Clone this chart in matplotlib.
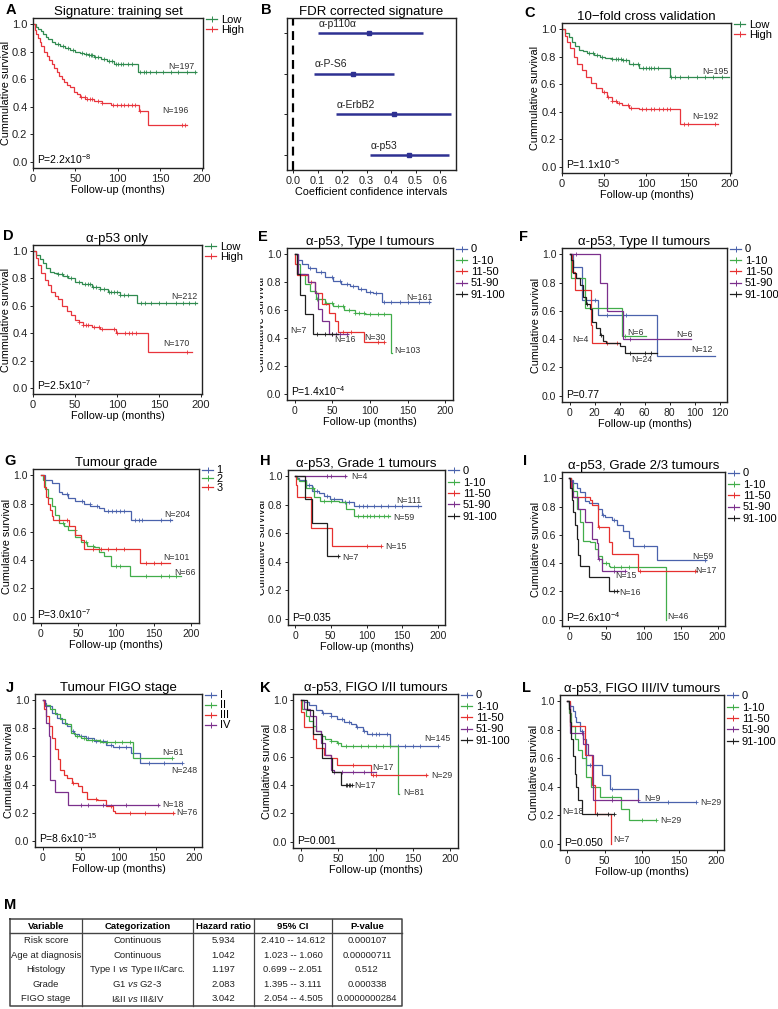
import numpy as np
import matplotlib.pyplot as plt
from matplotlib.lines import Line2D
from matplotlib.transforms import Bbox, TransformedBbox

# ---------------- data ----------------
# A  signature, training set (Low / High)
a_low_t = [0, 3, 6, 9, 12, 15, 18, 22, 26, 32, 38, 44, 50, 55, 60, 66, 72, 80, 88, 96, 124, 193]
a_low_s = [1.0, 0.98, 0.965, 0.95, 0.93, 0.91, 0.89, 0.87, 0.855, 0.845, 0.83, 0.815, 0.80, 0.79, 0.78, 0.775, 0.765, 0.75, 0.735, 0.71, 0.65, 0.65]
a_low_c = [30, 35, 41, 47, 58, 63, 66, 68, 70, 73, 77, 84, 90, 93, 98, 101, 104, 107, 112, 117, 127, 131, 134, 138, 145, 154, 163, 172, 182, 191]
a_high_t = [0, 2, 4, 6, 8, 10, 13, 16, 19, 22, 25, 28, 31, 34, 37, 40, 44, 48, 52, 56, 62, 72, 82, 92, 125, 136, 182]
a_high_s = [1.0, 0.96, 0.93, 0.90, 0.87, 0.84, 0.80, 0.77, 0.74, 0.71, 0.68, 0.65, 0.62, 0.60, 0.58, 0.56, 0.54, 0.51, 0.49, 0.47, 0.46, 0.445, 0.43, 0.41, 0.37, 0.27, 0.27]
a_high_c = [57, 61, 64, 67, 70, 77, 82, 95, 99, 104, 108, 112, 117, 121, 127, 176, 180]

# B  FDR corrected signature
b_names = ['\u03b1-p110\u03b1', '\u03b1-P-S6', '\u03b1-ErbB2', '\u03b1-p53']
b_coef = [0.31, 0.245, 0.41, 0.475]
b_lo = [0.10, 0.085, 0.175, 0.315]
b_hi = [0.53, 0.41, 0.645, 0.635]

# C  10-fold cross validation
c_low_t = [0, 4, 8, 12, 16, 20, 25, 30, 38, 45, 51, 60, 71, 80, 92, 128, 199]
c_low_s = [1.0, 0.97, 0.94, 0.91, 0.88, 0.85, 0.84, 0.83, 0.81, 0.795, 0.79, 0.78, 0.775, 0.75, 0.72, 0.655, 0.655]
c_low_c = [32, 37, 42, 47, 60, 64, 67, 70, 73, 76, 85, 90, 96, 100, 103, 106, 110, 114, 130, 134, 140, 150, 160, 170, 180, 190]
c_high_t = [0, 3, 6, 10, 14, 18, 24, 29, 35, 41, 47, 53, 59, 65, 71, 80, 92, 140, 185]
c_high_s = [1.0, 0.95, 0.91, 0.86, 0.80, 0.75, 0.70, 0.655, 0.61, 0.575, 0.54, 0.51, 0.48, 0.465, 0.45, 0.43, 0.42, 0.31, 0.31]
c_high_c = [50, 55, 60, 64, 68, 78, 82, 95, 100, 106, 110, 115, 120, 125, 128, 145, 150, 182]

# D  alpha-p53 only
d_low_t = [0, 4, 8, 12, 16, 20, 25, 30, 36, 42, 50, 58, 70, 80, 89, 103, 124, 195]
d_low_s = [1.0, 0.97, 0.945, 0.91, 0.88, 0.85, 0.84, 0.835, 0.82, 0.80, 0.775, 0.76, 0.74, 0.72, 0.70, 0.68, 0.62, 0.62]
d_low_c = [30, 34, 40, 45, 55, 62, 65, 68, 71, 75, 80, 85, 90, 93, 96, 100, 104, 108, 113, 128, 133, 140, 150, 158, 170, 178, 186, 193]
d_high_t = [0, 3, 6, 10, 14, 18, 22, 26, 30, 35, 40, 45, 50, 55, 60, 70, 80, 99, 137, 189]
d_high_s = [1.0, 0.95, 0.90, 0.84, 0.79, 0.75, 0.70, 0.67, 0.65, 0.60, 0.56, 0.53, 0.50, 0.48, 0.46, 0.445, 0.43, 0.40, 0.265, 0.265]
d_high_c = [55, 60, 63, 66, 72, 78, 82, 96, 100, 110, 114, 118, 122, 183]

# E  alpha-p53, Type I tumours (0, 1-10, 11-50, 51-90, 91-100)
e0_t = [0, 5, 10, 18, 29, 40, 51, 62, 73, 84, 95, 104, 116, 180]
e0_s = [1.0, 0.96, 0.93, 0.90, 0.87, 0.84, 0.81, 0.79, 0.77, 0.75, 0.73, 0.72, 0.66, 0.66]
e0_c = [20, 35, 50, 60, 70, 78, 88, 100, 108, 118, 128, 140, 150, 165, 178]
e1_t = [0, 3, 7, 14, 21, 29, 40, 51, 66, 80, 93, 128, 129]
e1_s = [1.0, 0.93, 0.86, 0.79, 0.74, 0.68, 0.65, 0.63, 0.60, 0.58, 0.57, 0.29, 0.29]
e1_c = [30, 42, 50, 57, 64, 72, 80, 86, 92, 100, 110, 118]
e2_t = [0, 1, 3, 18, 27, 36, 45, 53, 58, 92, 119]
e2_s = [1.0, 0.93, 0.85, 0.80, 0.72, 0.64, 0.58, 0.52, 0.44, 0.37, 0.37]
e2_c = [22, 64, 75, 110, 118]
e3_t = [0, 4, 18, 27, 31, 36, 45, 71]
e3_s = [1.0, 0.86, 0.80, 0.72, 0.61, 0.52, 0.43, 0.43]
e3_c = [50, 55, 60, 70]
e4_t = [0, 3, 7, 14, 25, 58]
e4_s = [1.0, 0.86, 0.71, 0.57, 0.43, 0.43]
e4_c = [30, 40, 50]

# F  alpha-p53, Type II tumours
f0_t = [0, 3, 10, 23, 70, 116]
f0_s = [1.0, 0.91, 0.68, 0.57, 0.28, 0.28]
f0_c = [20, 30, 45]
f1_t = [0, 1, 12, 42, 61]
f1_s = [1.0, 0.83, 0.62, 0.42, 0.42]
f1_c = [44]
f2_t = [0, 2, 4, 17, 18, 40]
f2_s = [1.0, 0.875, 0.75, 0.50, 0.375, 0.375]
f2_c = [30, 38]
f3_t = [0, 24, 30, 43, 97]
f3_s = [1.0, 0.80, 0.60, 0.40, 0.40]
f3_c = [5, 48]
f4_t = [0, 1, 3, 5, 8, 11, 13, 16, 18, 21, 24, 27, 29, 40, 44, 70]
f4_s = [1.0, 0.96, 0.87, 0.83, 0.78, 0.70, 0.65, 0.61, 0.52, 0.48, 0.43, 0.39, 0.37, 0.35, 0.30, 0.30]
f4_c = [14, 25, 48, 60, 65]

# G  tumour grade (1, 2, 3)
g1_t = [0, 6, 15, 24, 28, 37, 46, 58, 66, 78, 84, 120, 174]
g1_s = [1.0, 0.97, 0.945, 0.885, 0.87, 0.84, 0.815, 0.80, 0.78, 0.77, 0.745, 0.683, 0.683]
g1_c = [35, 55, 65, 75, 90, 95, 100, 105, 110, 125, 130, 135, 160, 172]
g2_t = [0, 3, 6, 10, 15, 19, 24, 31, 37, 46, 53, 62, 71, 78, 84, 93, 119, 186]
g2_s = [1.0, 0.97, 0.90, 0.84, 0.78, 0.72, 0.66, 0.64, 0.61, 0.565, 0.53, 0.50, 0.49, 0.46, 0.43, 0.36, 0.29, 0.29]
g2_c = [30, 45, 60, 70, 100, 105, 140, 160, 170, 180]
g3_t = [0, 4, 7, 10, 13, 15, 17, 38, 46, 53, 58, 132, 172]
g3_s = [1.0, 0.92, 0.85, 0.80, 0.755, 0.71, 0.685, 0.64, 0.58, 0.54, 0.48, 0.38, 0.38]
g3_c = [25, 35, 70, 80, 90, 100, 110, 140, 150, 160]

# H  alpha-p53, Grade 1 tumours
h0_t = [0, 2, 5, 15, 24, 33, 40, 49, 65, 83, 176]
h0_s = [1.0, 0.99, 0.975, 0.94, 0.90, 0.88, 0.86, 0.84, 0.82, 0.795, 0.795]
h0_c = [20, 30, 45, 55, 70, 75, 90, 95, 100, 110, 120, 130, 140, 150, 172]
h1_t = [0, 2, 5, 15, 26, 35, 62, 71, 83, 133]
h1_s = [1.0, 0.98, 0.965, 0.92, 0.855, 0.83, 0.82, 0.77, 0.72, 0.72]
h1_c = [25, 40, 50, 88, 95, 100, 105, 110, 118, 125, 130]
h2_t = [0, 1, 3, 22, 51, 121]
h2_s = [1.0, 0.94, 0.855, 0.64, 0.51, 0.51]
h2_c = [100, 120]
h3_t = [0, 71]
h3_s = [1.0, 1.0]
h3_c = [45, 50, 70]
h4_t = [0, 14, 24, 44, 62]
h4_s = [1.0, 0.84, 0.67, 0.44, 0.44]
h4_c = [60]

# I  alpha-p53, Grade 2/3 tumours
i0_t = [0, 2, 5, 10, 14, 21, 26, 39, 44, 48, 57, 64, 73, 80, 86, 118, 184]
i0_s = [1.0, 0.985, 0.97, 0.93, 0.90, 0.84, 0.825, 0.78, 0.74, 0.73, 0.705, 0.67, 0.63, 0.58, 0.52, 0.42, 0.42]
i0_c = [30, 45, 60, 100, 183]
i1_t = [0, 2, 5, 10, 14, 19, 28, 35, 39, 44, 53, 55, 130, 130]
i1_s = [1.0, 0.97, 0.91, 0.78, 0.69, 0.56, 0.55, 0.50, 0.45, 0.40, 0.38, 0.37, 0.0, 0.0]
i1_c = [50, 60, 70, 80]
i2_t = [0, 2, 4, 28, 30, 38, 53, 57, 93, 172]
i2_s = [1.0, 0.93, 0.87, 0.85, 0.81, 0.655, 0.55, 0.465, 0.345, 0.345]
i2_c = [40, 95, 170]
i3_t = [0, 1, 3, 5, 12, 21, 31, 37, 39, 44, 75]
i3_s = [1.0, 0.98, 0.91, 0.87, 0.78, 0.69, 0.57, 0.54, 0.43, 0.345, 0.345]
i3_c = [40, 60, 75]
i4_t = [0, 1, 3, 5, 8, 10, 12, 14, 26, 53, 66]
i4_s = [1.0, 0.93, 0.85, 0.76, 0.67, 0.57, 0.46, 0.38, 0.30, 0.20, 0.20]
i4_c = [60, 64]

# J  tumour FIGO stage (I, II, III, IV)
j1_t = [0, 2, 5, 12, 19, 25, 32, 37, 41, 48, 57, 68, 84, 93, 117, 128, 184]
j1_s = [1.0, 0.98, 0.96, 0.91, 0.875, 0.84, 0.815, 0.78, 0.76, 0.745, 0.73, 0.71, 0.685, 0.67, 0.625, 0.55, 0.55]
j1_c = [40, 50, 60, 70, 80, 90, 100, 110, 140, 160, 183]
j2_t = [0, 3, 10, 17, 23, 30, 37, 43, 50, 57, 75, 77, 119, 171]
j2_s = [1.0, 0.97, 0.935, 0.90, 0.865, 0.83, 0.77, 0.745, 0.73, 0.72, 0.71, 0.70, 0.59, 0.59]
j2_c = [45, 55, 65, 75, 85, 95, 105, 115, 170]
j3_t = [0, 2, 4, 8, 12, 17, 20, 23, 28, 32, 39, 46, 52, 59, 72, 84, 93, 95, 173]
j3_s = [1.0, 0.935, 0.89, 0.815, 0.73, 0.65, 0.58, 0.505, 0.47, 0.445, 0.41, 0.39, 0.35, 0.30, 0.29, 0.245, 0.21, 0.195, 0.195]
j3_c = [40, 70, 90, 115, 135, 172]
j4_t = [0, 3, 5, 8, 10, 17, 34, 153]
j4_s = [1.0, 0.96, 0.84, 0.745, 0.435, 0.35, 0.255, 0.255]
j4_c = [50, 60, 80, 110, 152]

# K  alpha-p53, FIGO I/II tumours
k0_t = [0, 4, 11, 20, 29, 40, 49, 58, 67, 74, 83, 89, 120, 184]
k0_s = [1.0, 0.99, 0.965, 0.935, 0.91, 0.89, 0.87, 0.85, 0.83, 0.81, 0.785, 0.765, 0.68, 0.68]
k0_c = [30, 40, 55, 65, 75, 85, 95, 100, 105, 115, 130, 140, 150, 160, 183]
k1_t = [0, 2, 7, 11, 16, 20, 27, 33, 40, 49, 54, 130, 131]
k1_s = [1.0, 0.94, 0.89, 0.855, 0.82, 0.785, 0.75, 0.73, 0.71, 0.70, 0.68, 0.34, 0.34]
k1_c = [40, 50, 60, 70, 80, 90, 100, 110, 120]
k2_t = [0, 1, 4, 16, 20, 31, 40, 49, 94, 169]
k2_s = [1.0, 0.915, 0.81, 0.725, 0.665, 0.615, 0.59, 0.54, 0.47, 0.47]
k2_c = [70, 96, 100, 168]
k3_t = [0, 5, 13, 20, 27, 33, 40, 45, 100]
k3_s = [1.0, 0.94, 0.89, 0.78, 0.70, 0.615, 0.51, 0.49, 0.49]
k3_c = [45, 55, 70, 85]
k4_t = [0, 9, 16, 29, 42, 54, 69]
k4_s = [1.0, 0.93, 0.76, 0.59, 0.495, 0.40, 0.40]
k4_c = [60, 62, 64, 66, 69]

# L  alpha-p53, FIGO III/IV tumours
l0_t = [0, 2, 4, 7, 10, 12, 17, 21, 25, 46, 57, 95, 173]
l0_s = [1.0, 0.99, 0.965, 0.93, 0.89, 0.855, 0.795, 0.735, 0.555, 0.48, 0.385, 0.29, 0.29]
l0_c = [20, 30, 60, 135, 173]
l1_t = [0, 2, 5, 10, 14, 19, 25, 32, 43, 72, 83, 119]
l1_s = [1.0, 0.915, 0.83, 0.735, 0.66, 0.60, 0.47, 0.40, 0.325, 0.24, 0.165, 0.165]
l1_c = [60, 100, 119]
l2_t = [0, 3, 23, 33, 37, 58, 58]
l2_s = [1.0, 0.83, 0.625, 0.415, 0.21, 0.0, 0.0]
l2_c = []
l3_t = [0, 2, 4, 21, 28, 34, 95]
l3_s = [1.0, 0.975, 0.78, 0.70, 0.625, 0.31, 0.31]
l3_c = [20, 60, 94]
l4_t = [0, 2, 3, 5, 8, 10, 12, 14, 19, 62]
l4_s = [1.0, 0.95, 0.855, 0.735, 0.615, 0.49, 0.395, 0.31, 0.21, 0.21]
l4_c = [40, 55, 62]

# legend labels
two_groups = ['Low', 'High']
p53_groups = ['0', '1-10', '11-50', '51-90', '91-100']
grade_groups = ['1', '2', '3']
figo_groups = ['I', 'II', 'III', 'IV']

# table M
tab_head = ['Variable', 'Categorization', 'Hazard ratio', '95% CI', 'P-value']
tab_var = ['Risk score', 'Age at diagnosis', 'Histology', 'Grade', 'FIGO stage']
tab_cat = ['Continuous', 'Continuous', r'Type I $\it{vs}$ Type II/Carc.', r'G1 $\it{vs}$ G2-3', r'I&II $\it{vs}$ III&IV']
tab_hr = ['5.934', '1.042', '1.197', '2.083', '3.042']
tab_ci = ['2.410 -- 14.612', '1.023 -- 1.060', '0.699 -- 2.051', '1.395 -- 3.111', '2.054 -- 4.505']
tab_p = ['0.000107', '0.00000711', '0.512', '0.000338', '0.0000000284']

# ---------------- style ----------------
plt.rcParams['font.family'] = ['Liberation Sans', 'DejaVu Sans']
plt.rcParams['mathtext.fontset'] = 'custom'
plt.rcParams['mathtext.rm'] = 'Liberation Sans'
plt.rcParams['mathtext.it'] = 'Liberation Sans:italic'

LOW = '#2f8a4f'
HIGH = '#e8343c'
BLUE = '#4a62ac'
GREEN = '#41ad4a'
RED = '#e6302f'
PURPLE = '#7b2f8c'
BLACK = '#1e1e1e'
NAVY = '#2e3192'
p53_cols = [BLUE, GREEN, RED, PURPLE, BLACK]

W, H = 778, 1009
fig = plt.figure(figsize=(W / 100, H / 100), dpi=100)


def box(l, t, r, b):
    return [l / W, 1 - b / H, (r - l) / W, (b - t) / H]


def km(ax, t, s, cens, color):
    t = np.asarray(t, float)
    s = np.asarray(s, float)
    ax.step(t, s, where='post', color=color, lw=0.9, solid_joinstyle='miter')
    if len(cens):
        c = np.asarray(cens, float)
        idx = np.searchsorted(t, c, side='right') - 1
        ax.plot(c, s[idx], ls='none', marker='+', color=color, ms=3.2, mew=0.6)


def panel(rect, curves, colors, labels, title, xlim, xticks, pval, ntext, npos,
          ylabel='Cumulative survival', xlabel=True, tsize=7.5, lspace=0.12, lsize=8):
    ax = fig.add_axes(box(*rect))
    for (t, s, c), col in zip(curves, colors):
        km(ax, t, s, c, col)
    ax.set_xlim(*xlim)
    ax.set_ylim(-0.045, 1.045)
    ax.set_xticks(xticks)
    ax.set_yticks([0, 0.2, 0.4, 0.6, 0.8, 1.0])
    ax.set_yticklabels(['0.0', '0.2', '0.4', '0.6', '0.8', '1.0'])
    ax.tick_params(labelsize=tsize, length=2.5, width=0.7, pad=1.5, colors='#222222')
    for sp in ax.spines.values():
        sp.set_linewidth(1.0)
        sp.set_color('#222222')
    ax.set_title(title, fontsize=9.5, pad=2.5)
    ax.set_ylabel(ylabel, fontsize=7.8, labelpad=1)
    if xlabel:
        ax.set_xlabel('Follow-up (months)', fontsize=7.8, labelpad=1)
    ax.text(0.025, 0.012, pval, transform=ax.transAxes, fontsize=7.5, va='bottom', ha='left')
    for txt, (x, y) in zip(ntext, npos):
        ax.text(x, y, txt, fontsize=6.3, color='#333333', ha='center', va='center')
    handles = [Line2D([], [], color=c, lw=0.9, marker='+', ms=4, mew=0.7) for c in colors]
    ax.legend(handles, labels, loc='upper left', bbox_to_anchor=(1.0, 1.045), frameon=False,
              fontsize=lsize, handlelength=1.0, handletextpad=0.3, labelspacing=lspace,
              borderaxespad=0.1, borderpad=0.2)
    return ax


# ---------------- row 1 ----------------
panel((33, 18, 203, 168), [(a_low_t, a_low_s, a_low_c), (a_high_t, a_high_s, a_high_c)],
      [LOW, HIGH], two_groups, 'Signature: training set', (0, 201), [0, 50, 100, 150, 200],
      r'P=2.2x10$^{-8}$', ['N=197', 'N=196'], [(175, 0.695), (168, 0.375)],
      ylabel='Cummulative survival', tsize=8, lspace=0.05)

axb = fig.add_axes(box(287, 18, 456, 170))
ypos = np.arange(len(b_names))[::-1] + 1
axb.hlines(ypos, b_lo, b_hi, color=NAVY, lw=1.8)
axb.plot(b_coef, ypos, 's', color=NAVY, ms=3)
for name, lo, y in zip(b_names, b_lo, ypos):
    axb.text(lo + 0.003, y + 0.1, name, fontsize=7.5, va='bottom', ha='left', color='#222222')
axb.axvline(0, color='black', lw=1.6, dashes=(4, 2.5))
axb.set_xlim(-0.025, 0.665)
axb.set_ylim(0.64, 4.36)
axb.set_yticks(ypos)
axb.set_yticklabels([])
axb.set_xticks([0, 0.1, 0.2, 0.3, 0.4, 0.5, 0.6])
axb.set_xticklabels(['0.0', '0.1', '0.2', '0.3', '0.4', '0.5', '0.6'])
axb.tick_params(labelsize=7.8, length=2.5, width=0.7, pad=1.5, colors='#222222')
for sp in axb.spines.values():
    sp.set_linewidth(1.0)
    sp.set_color('#222222')
axb.set_title('FDR corrected signature', fontsize=9.5, pad=2.5)
axb.set_xlabel('Coefficient confidence intervals', fontsize=7.8, labelpad=1)

panel((562, 23, 731, 173), [(c_low_t, c_low_s, c_low_c), (c_high_t, c_high_s, c_high_c)],
      [LOW, HIGH], two_groups, '10\u2212fold cross validation', (0, 201), [0, 50, 100, 150, 200],
      r'P=1.1x10$^{-5}$', ['N=195', 'N=192'], [(182, 0.695), (170, 0.365)],
      ylabel='Cummulative survival', tsize=8, lspace=0.05)

# ---------------- row 2 ----------------
panel((33, 245, 202, 394), [(d_low_t, d_low_s, d_low_c), (d_high_t, d_high_s, d_high_c)],
      [LOW, HIGH], two_groups, '\u03b1-p53 only', (0, 201), [0, 50, 100, 150, 200],
      r'P=2.5x10$^{-7}$', ['N=212', 'N=170'], [(180, 0.665), (170, 0.325)],
      ylabel='Cummulative survival', tsize=8, lspace=0.05)

axe = panel((287, 248, 453, 400),
            [(e0_t, e0_s, e0_c), (e1_t, e1_s, e1_c), (e2_t, e2_s, e2_c), (e3_t, e3_s, e3_c), (e4_t, e4_s, e4_c)],
            p53_cols, p53_groups, '\u03b1-p53, Type I tumours', (-10, 210), [0, 50, 100, 150, 200],
            r'P=1.4x10$^{-4}$', ['N=161', 'N=103', 'N=30', 'N=16', 'N=7'],
            [(165, 0.69), (149, 0.31), (107, 0.40), (67, 0.39), (5, 0.45)])

panel((562, 248, 727, 402),
      [(f0_t, f0_s, f0_c), (f1_t, f1_s, f1_c), (f2_t, f2_s, f2_c), (f3_t, f3_s, f3_c), (f4_t, f4_s, f4_c)],
      p53_cols, p53_groups, '\u03b1-p53, Type II tumours', (-6, 126), [0, 20, 40, 60, 80, 100, 120],
      'P=0.77', ['N=12', 'N=6', 'N=4', 'N=6', 'N=24'],
      [(106, 0.33), (53, 0.45), (9, 0.40), (92, 0.435), (58, 0.255)])

# ---------------- row 3 ----------------
panel((33, 469, 199, 623), [(g1_t, g1_s, g1_c), (g2_t, g2_s, g2_c), (g3_t, g3_s, g3_c)],
      [BLUE, GREEN, RED], grade_groups, 'Tumour grade', (-10, 210), [0, 50, 100, 150, 200],
      r'P=3.0x10$^{-7}$', ['N=204', 'N=66', 'N=101'], [(181, 0.72), (191, 0.31), (180, 0.42)],
      lspace=-0.1, lsize=7.8)

axh = panel((288, 470, 445, 625),
            [(h0_t, h0_s, h0_c), (h1_t, h1_s, h1_c), (h2_t, h2_s, h2_c), (h3_t, h3_s, h3_c), (h4_t, h4_s, h4_c)],
            p53_cols, p53_groups, '\u03b1-p53, Grade 1 tumours', (-10, 210), [0, 50, 100, 150, 200],
            'P=0.035', ['N=111', 'N=59', 'N=15', 'N=4', 'N=7'],
            [(160, 0.83), (152, 0.71), (141, 0.505), (90, 1.0), (78, 0.43)])

panel((562, 472, 725, 626),
      [(i0_t, i0_s, i0_c), (i1_t, i1_s, i1_c), (i2_t, i2_s, i2_c), (i3_t, i3_s, i3_c), (i4_t, i4_s, i4_c)],
      p53_cols, p53_groups, '\u03b1-p53, Grade 2/3 tumours', (-10, 210), [0, 50, 100, 150, 200],
      r'P=2.6x10$^{-4}$', ['N=59', 'N=46', 'N=17', 'N=15', 'N=16'],
      [(180, 0.45), (147, 0.025), (184, 0.35), (76, 0.31), (82, 0.19)], xlabel=False)

# ---------------- row 4 ----------------
panel((35, 694, 202, 847),
      [(j1_t, j1_s, j1_c), (j2_t, j2_s, j2_c), (j3_t, j3_s, j3_c), (j4_t, j4_s, j4_c)],
      [BLUE, GREEN, RED, PURPLE], figo_groups, 'Tumour FIGO stage', (-10, 210), [0, 50, 100, 150, 200],
      r'P=8.6x10$^{-15}$', ['N=248', 'N=61', 'N=76', 'N=18'],
      [(187, 0.50), (172, 0.625), (190, 0.20), (172, 0.26)], lspace=0.0)

panel((293, 694, 458, 848),
      [(k0_t, k0_s, k0_c), (k1_t, k1_s, k1_c), (k2_t, k2_s, k2_c), (k3_t, k3_s, k3_c), (k4_t, k4_s, k4_c)],
      p53_cols, p53_groups, '\u03b1-p53, FIGO I/II tumours', (-10, 210), [0, 50, 100, 150, 200],
      'P=0.001', ['N=145', 'N=81', 'N=29', 'N=17', 'N=17'],
      [(183, 0.73), (151, 0.35), (188, 0.47), (110, 0.525), (86, 0.40)])

panel((560, 695, 724, 850),
      [(l0_t, l0_s, l0_c), (l1_t, l1_s, l1_c), (l2_t, l2_s, l2_c), (l3_t, l3_s, l3_c), (l4_t, l4_s, l4_c)],
      p53_cols, p53_groups, '\u03b1-p53, FIGO III/IV tumours', (-10, 210), [0, 50, 100, 150, 200],
      'P=0.050', ['N=29', 'N=29', 'N=7', 'N=9', 'N=18'],
      [(193, 0.29), (139, 0.16), (72, 0.03), (114, 0.32), (8, 0.225)])

# E and H y labels are cut by the panel crop in the original
for ax_cut in (axe, axh):
    lab = ax_cut.yaxis.label
    lab.set_clip_box(TransformedBbox(Bbox.from_extents(260 / W, 0, 1, 1), fig.transFigure))
    lab.set_clip_on(True)

# ---------------- letters + table (pixel overlay) ----------------
ov = fig.add_axes([0, 0, 1, 1])
ov.set_xlim(0, W)
ov.set_ylim(H, 0)
ov.axis('off')

letters = ['A', 'B', 'C', 'D', 'E', 'F', 'G', 'H', 'I', 'J', 'K', 'L', 'M']
letter_xy = [(11, 10), (266, 10), (530, 13), (8, 236), (263, 237), (524, 237),
             (10, 461), (265, 461), (525, 461), (10, 688), (265, 688), (527, 688), (10, 905)]
for lt, (x, y) in zip(letters, letter_xy):
    ov.text(x, y, lt, fontsize=10.5, fontweight='bold', ha='center', va='center')

tab_x = [10, 82, 193, 254, 332, 402]
tab_top, tab_head_h, row_h = 919, 14, 14.5
tab_bot = tab_top + tab_head_h + row_h * len(tab_var) + 0.5
lc = '#444444'
ov.plot([tab_x[0], tab_x[-1], tab_x[-1], tab_x[0], tab_x[0]],
        [tab_top, tab_top, tab_bot, tab_bot, tab_top], color=lc, lw=1.1)
ov.plot([tab_x[0], tab_x[-1]], [tab_top + tab_head_h] * 2, color=lc, lw=1.0)
for x in tab_x[1:-1]:
    ov.plot([x, x], [tab_top, tab_bot], color=lc, lw=0.9)
centers = [(a + b) / 2 for a, b in zip(tab_x[:-1], tab_x[1:])]
for cx, h in zip(centers, tab_head):
    ov.text(cx, tab_top + tab_head_h / 2 + 0.5, h, fontsize=6.8, fontweight='bold',
            ha='center', va='center')
cols = [tab_var, tab_cat, tab_hr, tab_ci, tab_p]
for cx, col in zip(centers, cols):
    for i, v in enumerate(col):
        ov.text(cx, tab_top + tab_head_h + row_h * (i + 0.5) + 0.5, v, fontsize=6.8,
                ha='center', va='center', color='#222222')

fig.savefig('out.png', dpi=100)
